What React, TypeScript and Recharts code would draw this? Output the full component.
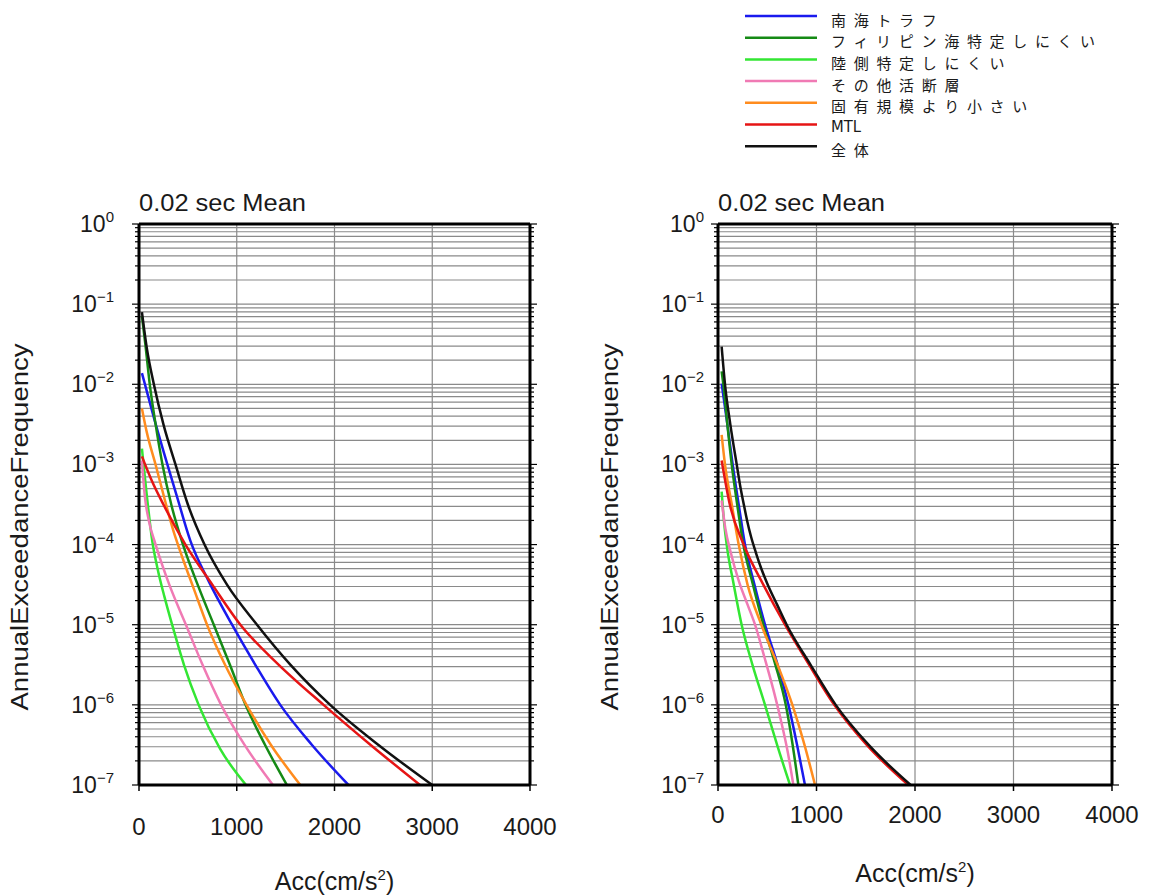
import { LineChart, Line, XAxis, YAxis, CartesianGrid, Legend, Label } from "recharts"

// series names / colours (legend order)
const NAMES = ["南海トラフ", "フィリピン海特定しにくい", "陸側特定しにくい", "その他活断層", "固有規模より小さい", "MTL", "全体"]
const COLORS = ["#1a1aee", "#158a15", "#33e633", "#f07ab4", "#ff8c1e", "#e61414", "#111111"]

const ACC_TICKS = [0, 1000, 2000, 3000, 4000]
const EXPONENTS = [-7, -6, -5, -4, -3, -2, -1]
const MANTISSAS = [1, 2, 3, 4, 5, 6, 7, 8, 9]

// [acc (cm/s2), annual exceedance frequency] — left panel
const nankaiL = [[30, 1.38e-2], [160, 3.55e-3], [290, 1e-3], [400, 3.55e-4], [525, 1.12e-4], [710, 3.55e-5], [952, 1e-5], [1190, 3.16e-6], [1445, 1e-6], [1770, 3.16e-7], [2143, 1e-7]]
const philL = [[30, 7.1e-2], [65, 3.16e-2], [110, 1e-2], [170, 3.16e-3], [240, 1e-3], [330, 3.16e-4], [450, 1e-4], [600, 3.16e-5], [765, 1e-5], [930, 3.16e-6], [1090, 1e-6], [1290, 3.16e-7], [1513, 1e-7]]
const landL = [[30, 1.58e-3], [55, 7.9e-4], [90, 3.16e-4], [135, 1.12e-4], [190, 5e-5], [260, 2.24e-5], [339, 1e-5], [460, 3.16e-6], [610, 1e-6], [830, 2.82e-7], [1095, 1e-7]]
const otherL = [[30, 1.12e-3], [60, 3.98e-4], [100, 2e-4], [170, 1e-4], [310, 3.16e-5], [480, 1e-5], [650, 3.16e-6], [840, 1e-6], [1080, 3.16e-7], [1370, 1e-7]]
const smallL = [[30, 5e-3], [80, 2.51e-3], [169, 1e-3], [255, 3.98e-4], [345, 1.58e-4], [440, 7.1e-5], [560, 2.82e-5], [696, 1e-5], [880, 3.16e-6], [1100, 1e-6], [1350, 3.16e-7], [1650, 1e-7]]
const mtlL = [[30, 1.26e-3], [130, 6.3e-4], [250, 3.16e-4], [475, 1e-4], [750, 3.16e-5], [1037, 1e-5], [1430, 3.16e-6], [1888, 1e-6], [2370, 3.16e-7], [2875, 1e-7]]
const totalL = [[30, 7.94e-2], [80, 2.82e-2], [152, 1e-2], [250, 3.16e-3], [373, 1e-3], [500, 3.16e-4], [670, 1e-4], [900, 3.16e-5], [1207, 1e-5], [1550, 3.16e-6], [1956, 1e-6], [2450, 3.16e-7], [3000, 1e-7]]

// right panel
const nankaiR = [[37, 1.02e-2], [95, 3.16e-3], [149, 1e-3], [210, 3.16e-4], [274, 1e-4], [370, 3.16e-5], [477, 1e-5], [605, 3.16e-6], [715, 1e-6], [803, 3.16e-7], [883, 1e-7]]
const philR = [[37, 1.45e-2], [54, 1e-2], [95, 3.16e-3], [139, 1e-3], [195, 3.16e-4], [257, 1e-4], [355, 3.16e-5], [460, 1e-5], [583, 3.16e-6], [688, 1e-6], [758, 3.16e-7], [816, 1e-7]]
const landR = [[37, 4.57e-4], [60, 2e-4], [88, 1e-4], [160, 3.16e-5], [240, 1e-5], [350, 3.16e-6], [477, 1e-6], [600, 3.16e-7], [731, 1e-7]]
const otherR = [[37, 3.55e-4], [75, 1.58e-4], [130, 7.9e-5], [210, 3.55e-5], [300, 1.78e-5], [376, 1e-5], [470, 3.98e-6], [560, 1.58e-6], [640, 6.3e-7], [710, 2.51e-7], [765, 1e-7]]
const smallR = [[37, 2.34e-3], [71, 1e-3], [140, 3.16e-4], [210, 1e-4], [300, 3.16e-5], [440, 1e-5], [605, 3.16e-6], [755, 1e-6], [878, 3.16e-7], [985, 1e-7]]
const mtlR = [[37, 1.12e-3], [120, 3.16e-4], [260, 1e-4], [460, 3.16e-5], [680, 1e-5], [925, 3.16e-6], [1180, 1e-6], [1510, 3.16e-7], [1932, 1e-7]]
const totalR = [[37, 2.95e-2], [71, 1e-2], [125, 3.16e-3], [190, 1e-3], [230, 5e-4], [262, 3.16e-4], [295, 2e-4], [335, 1.26e-4], [385, 7.9e-5], [440, 5e-5], [505, 3.16e-5], [600, 1.78e-5], [697, 1e-5], [940, 3.16e-6], [1195, 1e-6], [1530, 3.16e-7], [1956, 1e-7]]

const LEFT_SERIES = [nankaiL, philL, landL, otherL, smallL, mtlL, totalL]
const RIGHT_SERIES = [nankaiR, philR, landR, otherR, smallR, mtlR, totalR]

// grid/tick values 1..9 x 10^k
const FREQ_TICKS = [
  ...EXPONENTS.flatMap(e => MANTISSAS.map(m => Number((m * Math.pow(10, e)).toPrecision(2)))),
  1
]

const H = 896
const PLOT_TOP = 224
const PLOT_BOTTOM = 785
const INK = "#1a1a1a"
const FONT = '"Liberation Sans", Arial, Helvetica, sans-serif'
const CJK = '"Noto Sans CJK JP", "Noto Sans", sans-serif'

function XTick({ x, y, payload, dy, side }: any) {
  const out = side === "top" ? -5 : 6
  return (
    <g>
      <line x1={x} x2={x} y1={y} y2={y + out} stroke="#000" strokeWidth={1.5} />
      {side === "bottom" && (
        <text x={x} y={y + dy} textAnchor="middle" fontSize={24} fill={INK} fontFamily={FONT}>
          {payload.value}
        </text>
      )}
    </g>
  )
}

function YTick({ x, y, payload, gap, side }: any) {
  const lg = Math.log10(payload.value)
  const e = Math.round(lg)
  const major = Math.abs(lg - e) < 1e-6
  const dir = side === "left" ? -1 : 1
  return (
    <g>
      <line x1={x} x2={x + dir * (major ? 7 : 4)} y1={y} y2={y} stroke="#000" strokeWidth={1.2} />
      {side === "left" && major && (
        <text x={x - gap} y={y + 8} textAnchor="end" fontSize={23} fill={INK} fontFamily={FONT}>
          10<tspan dy={-10} fontSize={15}>{e === 0 ? "0" : `\u2212${-e}`}</tspan>
        </text>
      )}
    </g>
  )
}

function LegendBox() {
  return (
    <svg width={380} height={165}>
      {NAMES.map((name, i) => {
        const y = 16 + i * 21.7
        return (
          <g key={name}>
            <line x1={0} x2={72} y1={y} y2={y} stroke={COLORS[i]} strokeWidth={2.5} />
            {name === "MTL" ? (
              <text x={86} y={y + 2} dominantBaseline="central" fontSize={15} fill={INK}
                fontFamily='"DejaVu Sans Condensed", "DejaVu Sans", sans-serif' textLength={30} lengthAdjust="spacingAndGlyphs">
                {name}
              </text>
            ) : (
              <text x={86} y={y + 3} dominantBaseline="central" fontSize={15} letterSpacing={7.7} fill={INK} fontFamily={CJK}>
                {name}
              </text>
            )}
          </g>
        )
      })}
    </svg>
  )
}

interface PanelProps {
  series: number[][][]
  width: number
  yAxisWidth: number
  rightMargin: number
  yTickGap: number
  xTickDy: number
  accTitleY: number
  yTitleX: number
  showLegend?: boolean
}

function Panel({ series, width, yAxisWidth, rightMargin, yTickGap, xTickDy, accTitleY, yTitleX, showLegend }: PanelProps) {
  const plotRight = width - rightMargin - 10
  const plotCx = (yAxisWidth + plotRight) / 2
  const yMid = 527
  return (
    <LineChart
      width={width}
      height={H}
      margin={{ top: PLOT_TOP - 8, right: rightMargin, bottom: H - PLOT_BOTTOM - 100, left: 0 }}
    >
      <CartesianGrid xAxisId="b" yAxisId="l" stroke="#8a8a8a" strokeWidth={1.2} />

      <XAxis
        xAxisId="b"
        dataKey="acc"
        type="number"
        domain={[0, 4000]}
        ticks={ACC_TICKS}
        interval={0}
        allowDataOverflow
        height={100}
        tickSize={0}
        tickMargin={0}
        axisLine={{ stroke: "#000", strokeWidth: 3 }}
        tick={(p: any) => <XTick {...p} side="bottom" dy={xTickDy} />}
      >
        <Label
          content={() => (
            <text x={plotCx} y={accTitleY} textAnchor="middle" fontSize={25} fill={INK} fontFamily={FONT}>
              Acc(cm/s<tspan dy={-10} fontSize={15}>2</tspan><tspan dy={10}>)</tspan>
            </text>
          )}
        />
      </XAxis>

      <XAxis
        xAxisId="t"
        orientation="top"
        type="number"
        domain={[0, 4000]}
        ticks={ACC_TICKS}
        interval={0}
        allowDataOverflow
        height={8}
        tickSize={0}
        tickMargin={0}
        axisLine={{ stroke: "#000", strokeWidth: 3 }}
        tick={(p: any) => <XTick {...p} side="top" />}
      >
        <Label
          content={() => (
            <text x={yAxisWidth} y={211} fontSize={23} fill={INK} fontFamily={FONT} textLength={167} lengthAdjust="spacingAndGlyphs">
              0.02 sec Mean
            </text>
          )}
        />
      </XAxis>

      <YAxis
        yAxisId="l"
        type="number"
        scale="log"
        domain={[1e-7, 1]}
        ticks={FREQ_TICKS}
        interval={0}
        allowDataOverflow
        width={yAxisWidth}
        tickSize={0}
        tickMargin={0}
        axisLine={{ stroke: "#000", strokeWidth: 3 }}
        tick={(p: any) => <YTick {...p} side="left" gap={yTickGap} />}
      >
        <Label
          content={() => (
            <text
              x={yTitleX}
              y={yMid}
              transform={`rotate(-90 ${yTitleX} ${yMid})`}
              textAnchor="middle"
              dominantBaseline="central"
              fontSize={23}
              fill={INK}
              fontFamily={FONT}
              textLength={367}
              lengthAdjust="spacingAndGlyphs"
            >
              AnnualExceedanceFrequency
            </text>
          )}
        />
      </YAxis>

      <YAxis
        yAxisId="r"
        orientation="right"
        type="number"
        scale="log"
        domain={[1e-7, 1]}
        ticks={FREQ_TICKS}
        interval={0}
        allowDataOverflow
        width={10}
        tickSize={0}
        tickMargin={0}
        axisLine={{ stroke: "#000", strokeWidth: 3 }}
        tick={(p: any) => <YTick {...p} side="right" />}
      />

      {series.map((pts, i) => (
        <Line
          key={NAMES[i]}
          name={NAMES[i]}
          data={pts.map(([acc, f]) => ({ acc, f }))}
          dataKey="f"
          xAxisId="b"
          yAxisId="l"
          type="monotone"
          stroke={COLORS[i]}
          strokeWidth={2.5}
          dot={false}
          activeDot={false}
          isAnimationActive={false}
        />
      ))}

      {showLegend && (
        <Legend
          layout="horizontal"
          verticalAlign="middle"
          align="center"
          content={() => <LegendBox />}
          wrapperStyle={{ top: 0, left: 165, width: "auto", height: "auto" }}
        />
      )}
    </LineChart>
  )
}

export default function App() {
  return (
    <div style={{ position: "absolute", left: 0, top: 0, width: 1149, height: H, background: "#fff", fontFamily: FONT }}>
      <div style={{ position: "absolute", left: 0, top: 0 }}>
        <Panel
          series={LEFT_SERIES}
          width={580}
          yAxisWidth={139}
          rightMargin={40}
          yTickGap={25}
          xTickDy={50}
          accTitleY={890}
          yTitleX={20}
        />
      </div>
      <div style={{ position: "absolute", left: 580, top: 0 }}>
        <Panel
          series={RIGHT_SERIES}
          width={569}
          yAxisWidth={138}
          rightMargin={27}
          yTickGap={14}
          xTickDy={38}
          accTitleY={882}
          yTitleX={30}
          showLegend
        />
      </div>
    </div>
  )
}
